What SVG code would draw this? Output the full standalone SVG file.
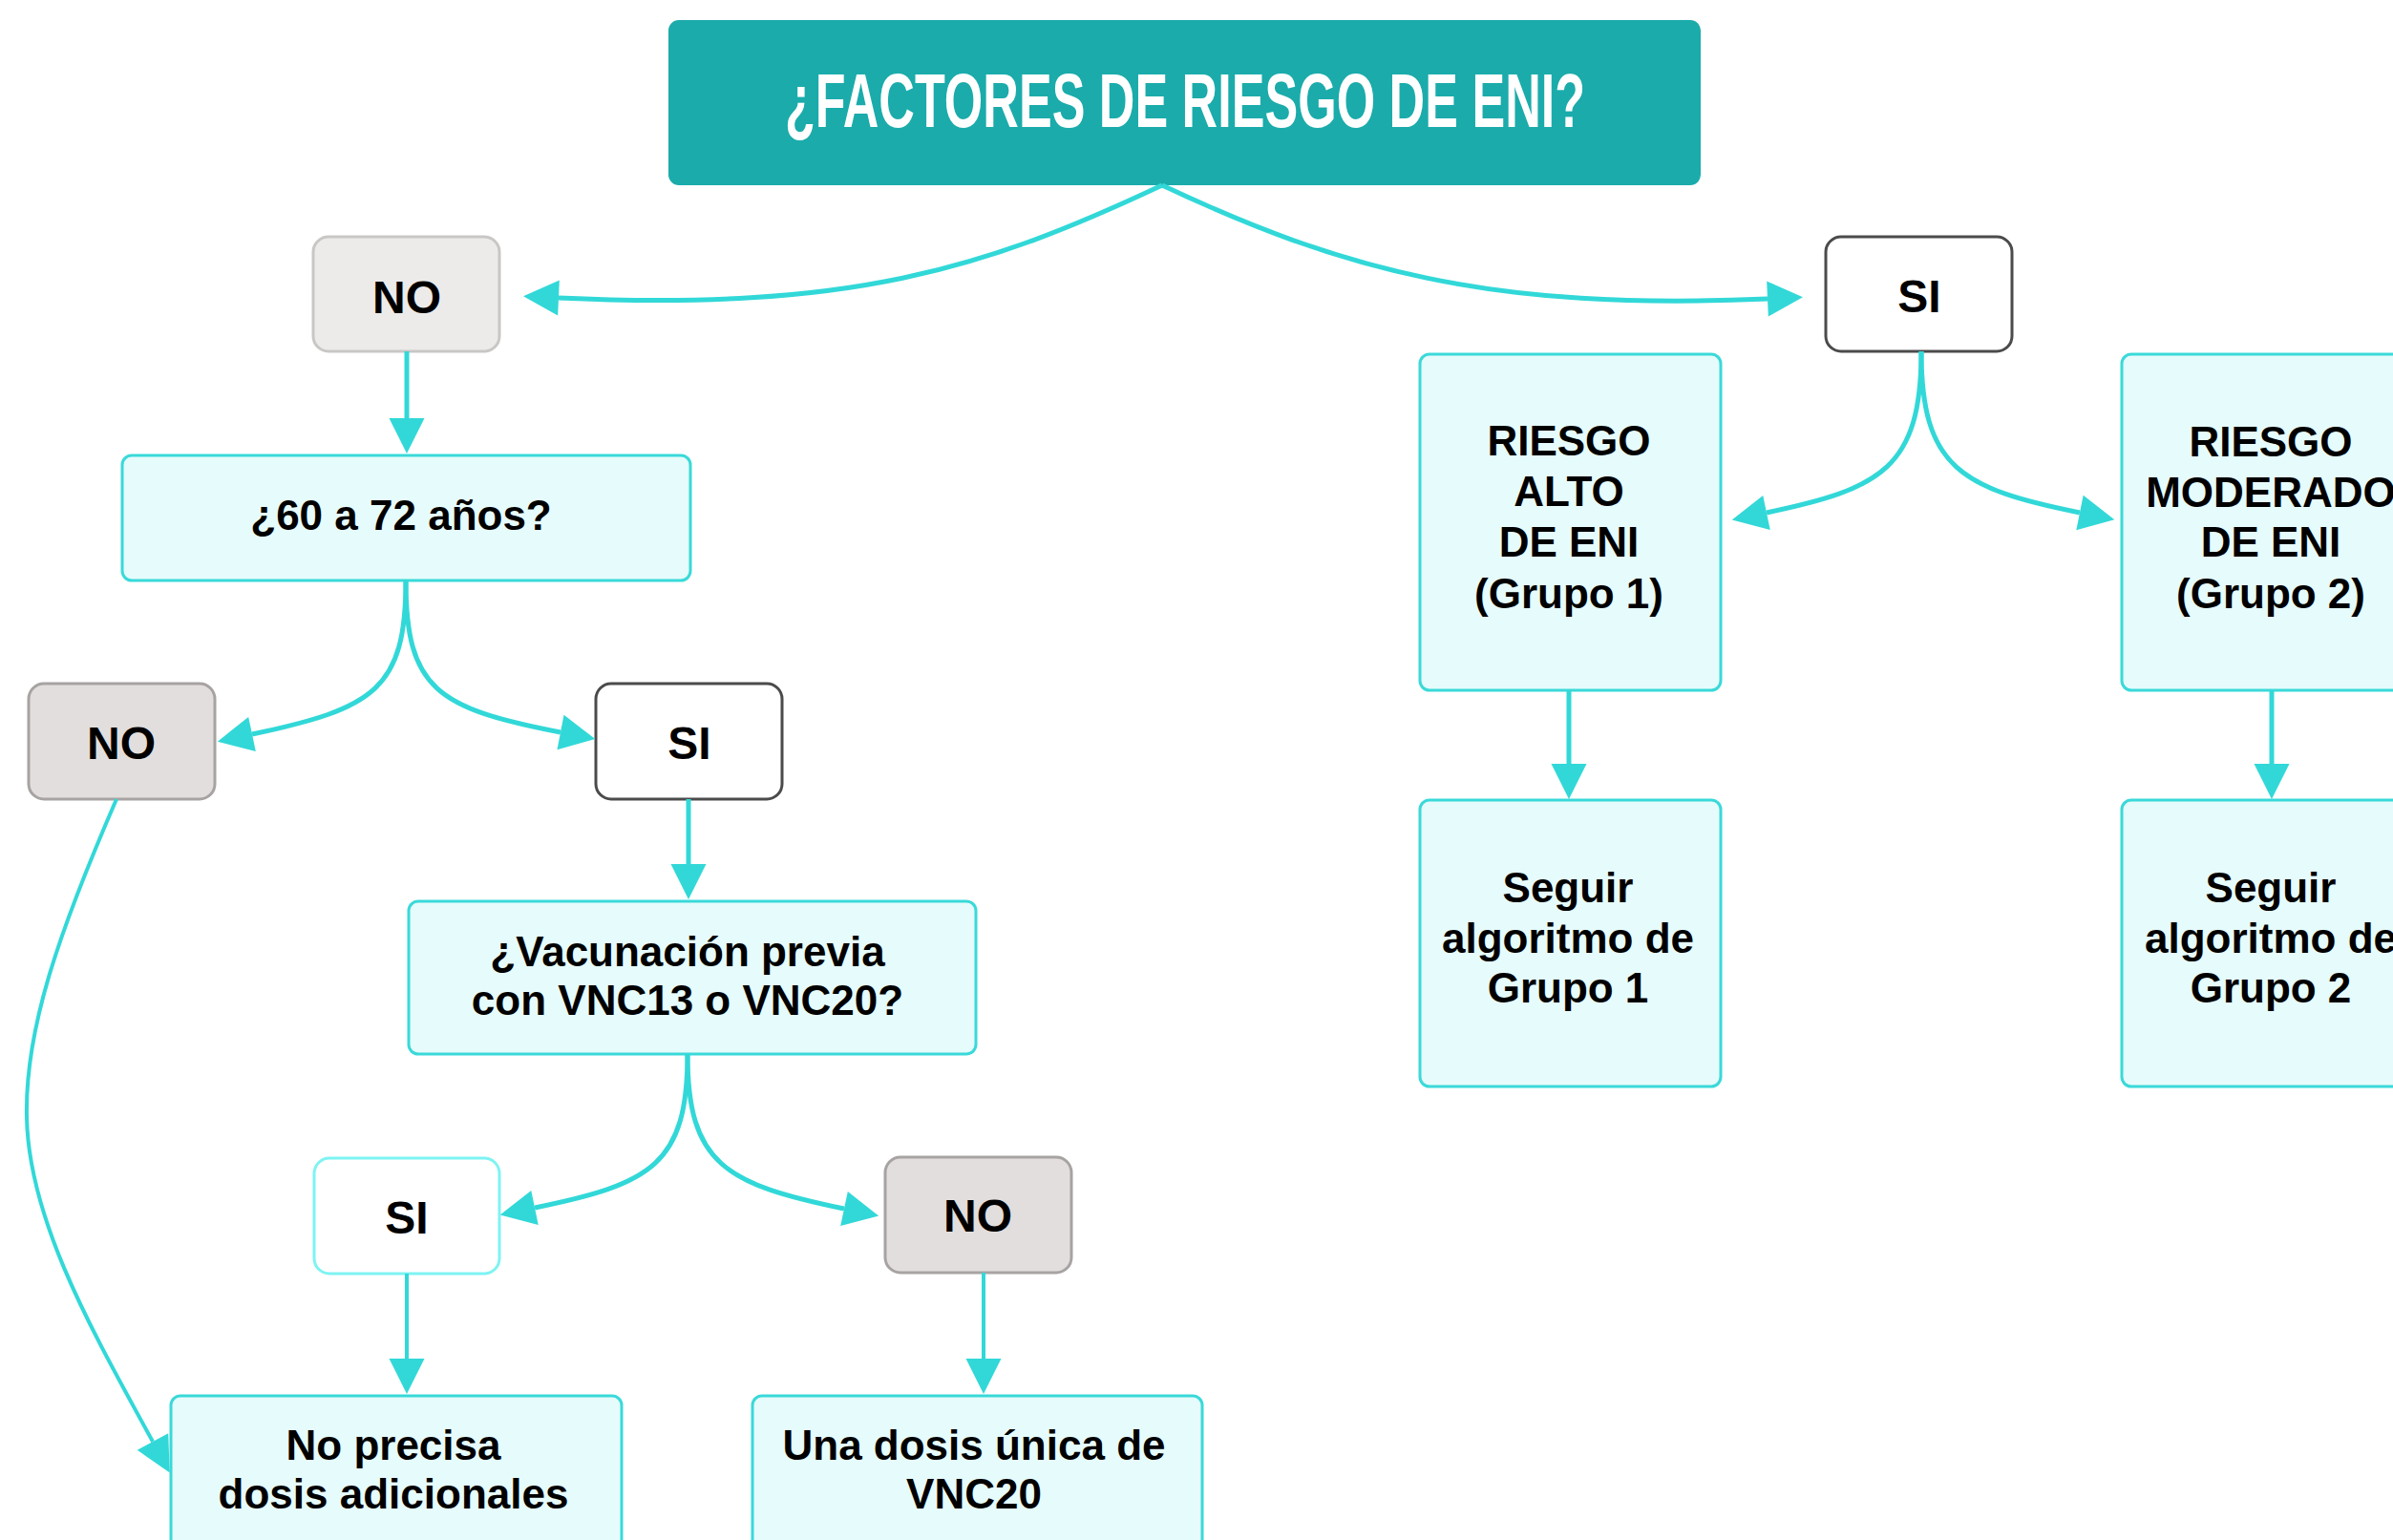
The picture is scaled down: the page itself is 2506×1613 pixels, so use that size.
<svg xmlns="http://www.w3.org/2000/svg" width="2506" height="1613" viewBox="0 0 2506 1613">
<style>
.t{font-family:"Liberation Sans",Arial,sans-serif;font-weight:700;font-size:44px;fill:#000;text-anchor:middle}
.big{font-size:48px}
.light{fill:#E6FBFB;stroke:#3AD9D9;stroke-width:3}
.grayA{fill:#ECEBEA;stroke:#C9C7C5;stroke-width:3}
.grayB{fill:#E2DEDD;stroke:#A7A3A2;stroke-width:3}
.white{fill:#FFFFFF;stroke:#4B4B4B;stroke-width:3}
.whiteC{fill:#FFFFFF;stroke:#7EF3F3;stroke-width:3}
.c{fill:none;stroke:#32D8D8;stroke-width:5;marker-end:url(#ah)}
.c4{stroke-width:4}
</style>
<defs>
<marker id="ah" markerUnits="userSpaceOnUse" markerWidth="37" markerHeight="37" viewBox="0 0 37 37" refX="0" refY="18.5" orient="auto" overflow="visible"><path d="M0,0 L37,18.5 L0,37 Z" fill="#32D8D8"/></marker>
</defs>
<rect width="2506" height="1613" fill="#FFFFFF"/>

<g id="title">
<rect x="700" y="21" width="1081" height="173" rx="11" fill="#1BABAB"/>
<text x="1241" y="133" font-family="Liberation Sans, Arial, sans-serif" font-weight="700" font-size="80" fill="#FFFFFF" text-anchor="middle" textLength="838" lengthAdjust="spacingAndGlyphs">¿FACTORES DE RIESGO DE ENI?</text>
</g>

<g id="no1">
<rect class="grayA" x="328" y="248" width="195" height="120" rx="16"/>
<text class="t big" x="426" y="328">NO</text>
</g>

<g id="si1">
<rect class="white" x="1912" y="248" width="195" height="120" rx="16"/>
<text class="t big" x="2010" y="327">SI</text>
</g>

<g id="edad">
<rect class="light" x="128" y="477" width="595" height="131" rx="10"/>
<text class="t" x="420" y="555">¿60 a 72 años?</text>
</g>

<g id="no2">
<rect class="grayB" x="30" y="716" width="195" height="121" rx="16"/>
<text class="t big" x="127" y="795">NO</text>
</g>

<g id="si2">
<rect class="white" x="624" y="716" width="195" height="121" rx="16"/>
<text class="t big" x="722" y="795">SI</text>
</g>

<g id="vacunacion">
<rect class="light" x="428" y="944" width="594" height="160" rx="10"/>
<text class="t" x="720" y="1012">¿Vacunación previa</text>
<text class="t" x="720" y="1063">con VNC13 o VNC20?</text>
</g>

<g id="si3">
<rect class="whiteC" x="329" y="1213" width="194" height="121" rx="16"/>
<text class="t big" x="426" y="1292">SI</text>
</g>

<g id="no3">
<rect class="grayB" x="927" y="1212" width="195" height="121" rx="16"/>
<text class="t big" x="1024" y="1290">NO</text>
</g>

<g id="noprecisa">
<rect class="light" x="179" y="1462" width="472" height="200" rx="10"/>
<text class="t" x="412" y="1529">No precisa</text>
<text class="t" x="412" y="1580">dosis adicionales</text>
</g>

<g id="unadosis">
<rect class="light" x="788" y="1462" width="471" height="200" rx="10"/>
<text class="t" x="1020" y="1529">Una dosis única de</text>
<text class="t" x="1020" y="1580">VNC20</text>
</g>

<g id="riesgoalto">
<rect class="light" x="1487" y="371" width="315" height="352" rx="10"/>
<text class="t" x="1643" y="477">RIESGO</text>
<text class="t" x="1643" y="530">ALTO</text>
<text class="t" x="1643" y="583">DE ENI</text>
<text class="t" x="1643" y="637">(Grupo 1)</text>
</g>

<g id="riesgomoderado">
<rect class="light" x="2222" y="371" width="316" height="352" rx="10"/>
<text class="t" x="2378" y="478">RIESGO</text>
<text class="t" x="2378" y="531">MODERADO</text>
<text class="t" x="2378" y="583">DE ENI</text>
<text class="t" x="2378" y="637">(Grupo 2)</text>
</g>

<g id="seguir1">
<rect class="light" x="1487" y="838" width="315" height="300" rx="10"/>
<text class="t" x="1642" y="945">Seguir</text>
<text class="t" x="1642" y="998">algoritmo de</text>
<text class="t" x="1642" y="1050">Grupo 1</text>
</g>

<g id="seguir2">
<rect class="light" x="2222" y="838" width="316" height="300" rx="10"/>
<text class="t" x="2378" y="945">Seguir</text>
<text class="t" x="2378" y="998">algoritmo de</text>
<text class="t" x="2378" y="1050">Grupo 2</text>
</g>

<g id="connectors">
<path class="c" d="M1217,194 C1030,282 890,326 585,312"/>
<path class="c" d="M1217,194 C1404,282 1560,326 1851,313"/>
<path class="c" d="M426,368 L426,438"/>
<path class="c" d="M425,608 C425,722 392,742 264,769"/>
<path class="c" d="M425,608 C425,722 458,742 587,767"/>
<path class="c" d="M721,837 L721,905"/>
<path class="c" d="M720,1104 C720,1220 682,1240 560,1265"/>
<path class="c" d="M720,1104 C720,1220 760,1240 884,1266"/>
<path class="c c4" d="M426,1334 L426,1423"/>
<path class="c c4" d="M1030,1333 L1030,1423"/>
<path class="c c4" d="M122,837 C60,980 26,1080 28,1170 C30,1280 100,1400 160,1510"/>
<path class="c" d="M2012,368 C2012,490 1970,512 1850,537"/>
<path class="c" d="M2012,368 C2012,490 2054,512 2178,537"/>
<path class="c" d="M1643,723 L1643,800"/>
<path class="c" d="M2379,723 L2379,800"/>
</g>
</svg>
